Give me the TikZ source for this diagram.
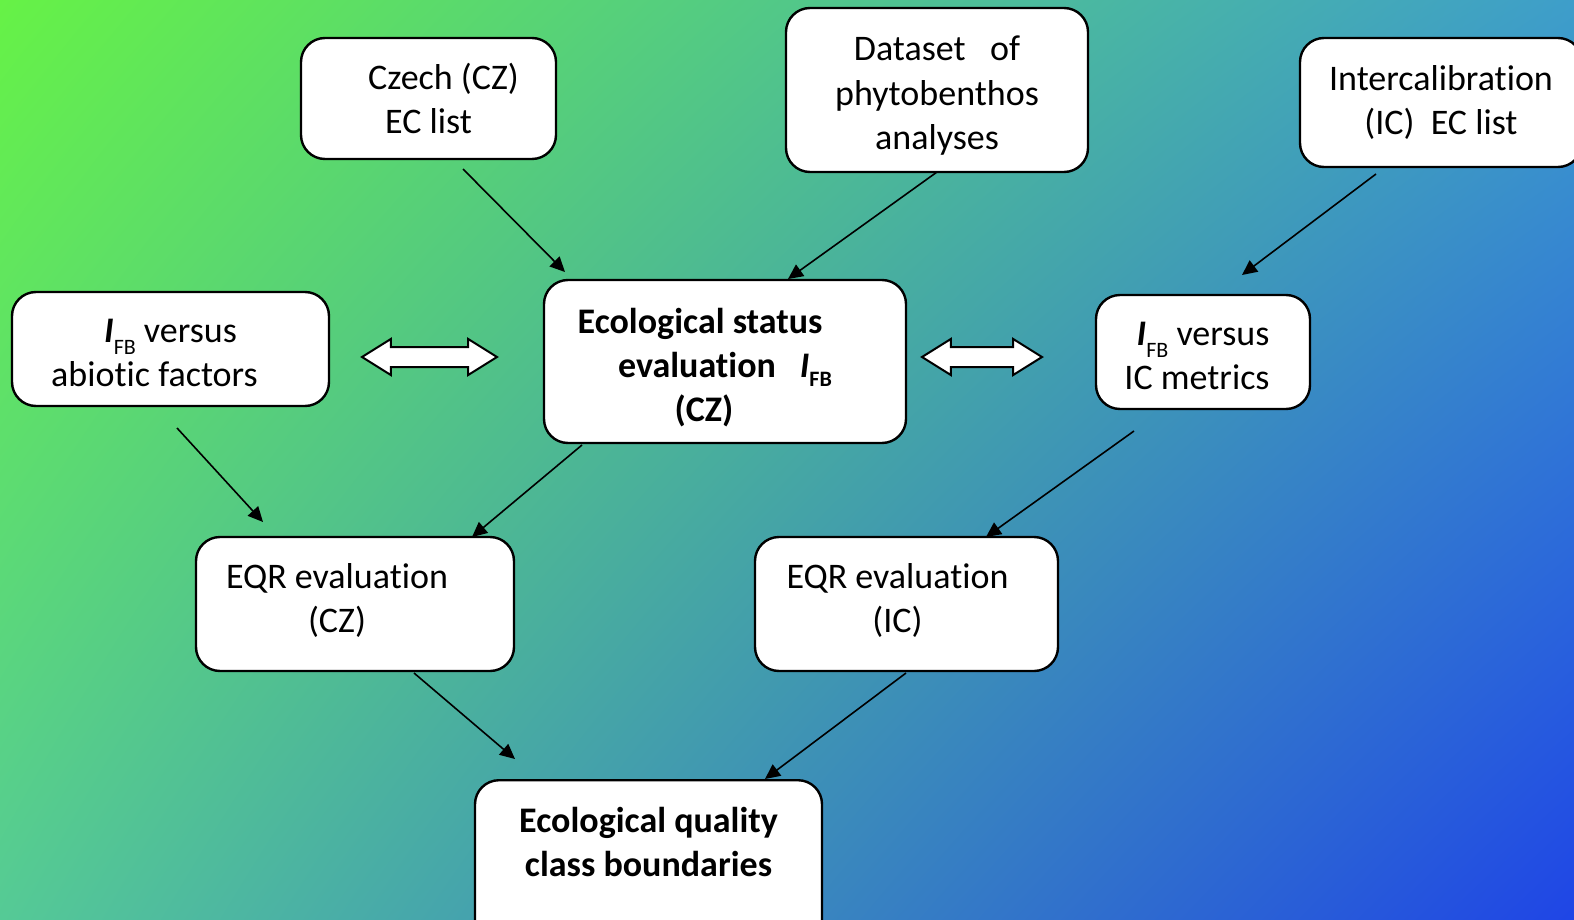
\documentclass[tikz,border=0pt]{standalone}
\usepackage{fontspec}
\setmainfont[Ligatures=NoCommon]{Carlito}
\usetikzlibrary{positioning,arrows.meta,shapes.arrows,shadings}

\definecolor{bgUL}{HTML}{66F246}
\definecolor{bgUR}{HTML}{3E9ECA}
\definecolor{bgLL}{HTML}{55CA96}
\definecolor{bgLR}{HTML}{1F45E6}

\newcommand{\fbsub}[1]{\raisebox{-#1pt}{\fontsize{11}{11}\selectfont FB}}
\newcommand{\Ifb}{\textbf{\textit{I}}\fbsub{6}}
\newcommand{\pad}[1]{\hspace*{#1pt}}

\tikzset{
	box/.style={draw=black, line width=1.2pt, fill=white, rounded corners=12pt, align=center,
		inner sep=6pt, font=\fontsize{18}{22}\selectfont},
	boldbox/.style={box, font=\fontsize{18}{22}\selectfont\bfseries},
	textdrop/.style 2 args={text height=#1pt, text depth=#2pt},
	link/.style={-{Triangle[length=7.5pt,width=7pt]}, line width=0.8pt},
	twoway/.style={double arrow, draw=black, fill=white, line width=1pt, inner xsep=0pt,
		inner ysep=4.5pt, double arrow head extend=4pt, double arrow tip angle=64}
}

\begin{document}
\begin{tikzpicture}[x=0.5pt, y=-0.5pt]

			\useasboundingbox (0,0) rectangle (1574,920);
			\clip (0,0) rectangle (1574,920);
			\shade[upper left=bgUL, upper right=bgUR, lower left=bgLL, lower right=bgLR] (0,0) rectangle (1574,920);

			% Define nodes
			\node[box, minimum width=127.5pt, minimum height=60.5pt]   (czech) at (428.5,98.5) {\pad{15}Czech (CZ)\\EC list};
			\node[box, minimum width=151pt, minimum height=82pt, textdrop={60}{1}] (data) at (937,90) {Dataset\ \ \ of\\phytobenthos\\analyses};
			\node[box, minimum width=141pt, minimum height=64.5pt]     (icl) at (1441,102.5) {Intercalibration\\(IC)\ \ EC list};

			\node[box, minimum width=158.5pt, minimum height=57pt, textdrop={37}{0}] (abio) at (170.5,349) {\Ifb{} versus\\abiotic factors\pad{16}};
			\node[boldbox, minimum width=181pt, minimum height=81.5pt, textdrop={62}{2.4}] (status) at (725,361.5) {Ecological status\pad{25}\\evaluation\hspace{12pt}\textit{I}\fbsub{4.5}\pad{17.5}\\(CZ)\pad{21}};
			\node[box, minimum width=107pt, minimum height=57pt, textdrop={37.6}{0}] (icm) at (1203,352) {\Ifb{} versus\\IC metrics\pad{6}};

			\node[box, minimum width=159pt, minimum height=67pt, textdrop={32}{3.2}]   (eqr_cz) at (355,604) {EQR evaluation\pad{18}\\(CZ)\pad{18}};
			\node[box, minimum width=151.5pt, minimum height=67pt, textdrop={32}{3.2}] (eqr_ic) at (906.5,604) {EQR evaluation\pad{9}\\(IC)\pad{9}};

			\node[boldbox, minimum width=173.5pt, textdrop={42}{60}, anchor=north] (qual) at (648.5,779) {Ecological quality\\class boundaries};

			% Two-way arrows
			\node[twoway, minimum height=67.5pt] (ab_st) at (429.5,357) {};
			\node[twoway, minimum height=60pt]   (st_ic) at (982,357) {};

			% Arrow ends
			\coordinate (czech_o) at (463,169);
			\coordinate (czech_i) at (565,272);
			\coordinate (data_o) at (937,172);
			\coordinate (data_i) at (788,279);
			\coordinate (icl_o) at (1376,174);
			\coordinate (icl_i) at (1242,275);
			\coordinate (abio_o) at (177,428);
			\coordinate (abio_i) at (263,522);
			\coordinate (status_o) at (582,445);
			\coordinate (status_i) at (472,537);
			\coordinate (icm_o) at (1134,431);
			\coordinate (icm_i) at (986,537);
			\coordinate (eqrcz_o) at (414,673);
			\coordinate (eqrcz_i) at (515,759);
			\coordinate (eqric_o) at (906,673);
			\coordinate (eqric_i) at (765,779);

			% Connect the nodes
			\draw[link] (czech_o) -- (czech_i);
			\draw[link] (data_o) -- (data_i);
			\draw[link] (icl_o) -- (icl_i);
			\draw[link] (abio_o) -- (abio_i);
			\draw[link] (status_o) -- (status_i);
			\draw[link] (icm_o) -- (icm_i);
			\draw[link] (eqrcz_o) -- (eqrcz_i);
			\draw[link] (eqric_o) -- (eqric_i);

\end{tikzpicture}
\end{document}
